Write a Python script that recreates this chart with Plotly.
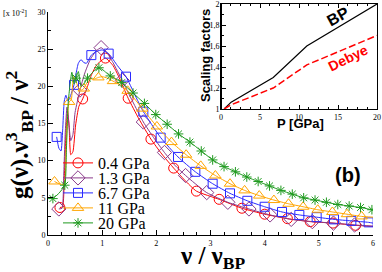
import plotly.graph_objects as go

# ---------------- data ----------------
x_red = [0.22, 0.27, 0.30, 0.33, 0.36, 0.39, 0.42, 0.46, 0.51, 0.57, 0.64, 0.72, 0.80, 0.90, 1.06, 1.20, 1.30, 1.48, 1.68, 1.90, 2.10, 2.32, 2.52, 2.74, 3.16, 3.58, 4.00, 4.42, 4.84, 5.26, 5.68, 6.00]
y_red = [3.7, 3.8, 7.5, 13.5, 16.8, 14.5, 10.8, 11.2, 14.8, 17.3, 18.3, 19.8, 21.5, 22.9, 23.8, 22.8, 21.4, 18.4, 15.6, 12.9, 10.9, 9.0, 7.4, 5.9, 4.8, 3.6, 2.8, 2.2, 1.8, 1.6, 1.3, 1.15]
mx_red = [0.22, 0.64, 1.06, 1.48, 1.90, 2.32, 2.74, 3.16, 3.58, 4.00, 4.42, 4.84, 5.26, 5.68]

x_pur = [0.20, 0.26, 0.29, 0.32, 0.35, 0.38, 0.42, 0.46, 0.50, 0.59, 0.68, 0.78, 0.88, 0.98, 1.08, 1.20, 1.37, 1.56, 1.76, 1.95, 2.15, 2.34, 2.54, 2.93, 3.32, 3.71, 4.10, 4.49, 4.88, 5.27, 5.66, 6.00]
y_pur = [3.5, 3.6, 8.0, 14.0, 17.2, 15.5, 12.7, 13.5, 16.5, 19.5, 21.8, 23.6, 24.7, 25.2, 24.6, 23.2, 20.8, 18.0, 15.2, 13.1, 11.1, 9.4, 8.0, 5.7, 4.4, 3.5, 2.7, 2.1, 1.8, 1.6, 1.35, 1.2]
mx_pur = [0.20, 0.59, 0.98, 1.37, 1.76, 2.15, 2.54, 2.93, 3.32, 3.71, 4.10, 4.49, 4.88, 5.27, 5.66]

x_blu = [0.16, 0.20, 0.24, 0.27, 0.30, 0.33, 0.37, 0.42, 0.48, 0.52, 0.56, 0.61, 0.66, 0.71, 0.80, 0.90, 1.00, 1.12, 1.28, 1.44, 1.60, 1.76, 2.08, 2.40, 2.72, 3.04, 3.36, 3.68, 4.00, 4.32, 4.64, 4.96, 5.28, 5.60, 5.92, 6.00]
y_blu = [13.2, 11.7, 11.3, 14.0, 18.0, 18.8, 18.0, 18.8, 20.2, 21.8, 23.1, 23.6, 23.2, 23.1, 24.2, 24.7, 24.9, 24.4, 22.8, 21.3, 18.9, 16.6, 13.1, 10.5, 8.5, 6.9, 5.6, 4.6, 3.8, 3.1, 2.7, 2.4, 2.1, 1.9, 1.7, 1.6]
mx_blu = [0.16, 0.48, 0.80, 1.12, 1.44, 1.76, 2.08, 2.40, 2.72, 3.04, 3.36, 3.68, 4.00, 4.32, 4.64, 4.96, 5.28, 5.60, 5.92]

x_org = [0.12, 0.20, 0.30, 0.33, 0.36, 0.39, 0.43, 0.47, 0.52, 0.57, 0.62, 0.66, 0.72, 0.79, 0.86, 0.93, 1.00, 1.10, 1.20, 1.33, 1.47, 1.60, 1.74, 2.01, 2.28, 2.55, 2.82, 3.09, 3.36, 3.63, 3.90, 4.17, 4.44, 4.71, 4.98, 5.25, 5.52, 5.79, 6.00]
y_org = [7.2, 6.9, 6.8, 10.5, 16.0, 17.9, 18.2, 21.3, 20.6, 19.7, 19.5, 19.7, 20.5, 21.0, 21.0, 21.2, 21.3, 21.1, 20.7, 20.2, 19.4, 18.3, 17.0, 14.6, 12.5, 10.8, 9.3, 8.0, 6.9, 6.0, 5.3, 4.7, 4.2, 3.8, 3.4, 3.1, 2.8, 2.5, 2.4]
mx_org = [0.12, 0.39, 0.66, 0.93, 1.20, 1.47, 1.74, 2.01, 2.28, 2.55, 2.82, 3.09, 3.36, 3.63, 3.90, 4.17, 4.44, 4.71, 4.98, 5.25, 5.52, 5.79]

x_grn = [0.09, 0.20, 0.31, 0.34, 0.37, 0.40, 0.44, 0.48, 0.52, 0.56, 0.61, 0.66, 0.73, 0.80, 0.87, 0.94, 1.00, 1.08, 1.15, 1.25, 1.36, 1.57, 1.78, 1.99, 2.20, 2.41, 2.62, 2.83, 3.04, 3.25, 3.46, 3.67, 3.88, 4.09, 4.30, 4.51, 4.72, 4.93, 5.14, 5.35, 5.56, 5.77, 5.98]
y_grn = [4.9, 5.6, 6.7, 11.5, 17.5, 19.8, 21.9, 20.3, 21.1, 22.0, 20.0, 20.3, 21.1, 21.7, 22.2, 22.5, 22.3, 21.8, 21.4, 21.0, 20.5, 19.1, 17.7, 16.2, 14.9, 13.6, 12.5, 11.3, 10.1, 9.2, 8.5, 7.8, 7.2, 6.6, 6.0, 5.5, 5.0, 4.7, 4.4, 4.1, 3.9, 3.7, 3.4]
mx_grn = [0.09, 0.31, 0.52, 0.73, 0.94, 1.15, 1.36, 1.57, 1.78, 1.99, 2.20, 2.41, 2.62, 2.83, 3.04, 3.25, 3.46, 3.67, 3.88, 4.09, 4.30, 4.51, 4.72, 4.93, 5.14, 5.35, 5.56, 5.77, 5.98]

series_names = ["0.4 GPa", "1.3 GPa", "6.7 GPa", "11 GPa", "20 GPa"]

# inset
p_gpa = [0.4, 1.3, 6.7, 11, 20]
bp_scale = [1.0, 1.065, 1.3, 1.6, 2.0]
debye_scale = [1.0, 1.04, 1.2, 1.42, 1.7]

main_xticks = [0, 1, 2, 3, 4, 5, 6]
main_yticks = [0, 5, 10, 15, 20, 25, 30]
inset_xticks = [0, 5, 10, 15, 20]
inset_yticks = [1.0, 1.2, 1.4, 1.6, 1.8, 2.0]
inset_ytext = ["1", "1,2", "1,4", "1,6", "1,8", "2"]

# ---------------- layout helpers ----------------
W, H = 382, 272
L, R, T, B = 48, 5, 4, 37
PW, PH = W - L - R, H - T - B

def px(X):
    return (X - L) / PW

def py(Y):
    return (H - B - Y) / PH

SERIF = "Liberation Serif"
SANS = "Liberation Sans"

styles = [
    ("#ff0000", "circle-open", 10),
    ("#8a3a8a", "diamond-open", 11),
    ("#2a2aff", "square-open", 9),
    ("#ffa500", "triangle-up-open", 10),
    ("#1f9a1f", "asterisk-open", 8),
]
data = [(x_red, y_red, mx_red), (x_pur, y_pur, mx_pur), (x_blu, y_blu, mx_blu),
        (x_org, y_org, mx_org), (x_grn, y_grn, mx_grn)]

fig = go.Figure()
for i, ((xs, ys, mxs), (col, sym, sz), name) in enumerate(zip(data, styles, series_names)):
    lookup = dict(zip(xs, ys))
    fig.add_trace(go.Scatter(x=xs, y=ys, mode="lines", showlegend=False, hoverinfo="skip",
                             line=dict(color=col, width=1, shape="spline", smoothing=0.5)))
    fig.add_trace(go.Scatter(x=mxs, y=[lookup[v] for v in mxs], mode="markers", showlegend=False,
                             marker=dict(symbol=sym, size=sz, color=col, line=dict(color=col, width=1))))
    fig.add_trace(go.Scatter(x=[None], y=[None], mode="lines+markers", name=name,
                             legend="legend" if i == 0 else f"legend{i+1}",
                             line=dict(color=col, width=1),
                             marker=dict(symbol=sym, size=sz, color=col, line=dict(color=col, width=1))))

fig.add_trace(go.Scatter(x=p_gpa, y=bp_scale, mode="lines", xaxis="x2", yaxis="y2", showlegend=False,
                         line=dict(color="black", width=1.2)))
fig.add_trace(go.Scatter(x=p_gpa, y=debye_scale, mode="lines", xaxis="x2", yaxis="y2", showlegend=False,
                         line=dict(color="#ff0000", width=1.5, dash="7px,3px")))

axis_common = dict(showline=True, linecolor="black", linewidth=1, showgrid=False, zeroline=False,
                   ticks="inside", tickcolor="black", tickwidth=1, automargin=False, showticklabels=True)

legend_y = [163, 178, 193, 208, 223]
legends = {}
for i, yy in enumerate(legend_y):
    key = "legend" if i == 0 else f"legend{i+1}"
    legends[key] = dict(x=px(58), y=py(yy), xanchor="left", yanchor="middle",
                        bgcolor="rgba(0,0,0,0)", font=dict(family=SERIF, size=16, color="black"),
                        itemwidth=30, tracegroupgap=0)

fig.update_layout(
    template="none",
    width=W, height=H, margin=dict(l=L, r=R, t=T, b=B, autoexpand=False),
    paper_bgcolor="white", plot_bgcolor="white",
    font=dict(family=SERIF, color="black"),
    xaxis=dict(**axis_common, domain=[0, px(373)], range=[0, 6], tickvals=main_xticks, ticklen=5,
               minor=dict(dtick=0.25, ticks="inside", ticklen=3, tickcolor="black"),
               tickfont=dict(family=SERIF, size=8, color="black")),
    yaxis=dict(**axis_common, domain=[0, py(12)], range=[0, 30], tickvals=main_yticks, ticklen=5,
               minor=dict(dtick=2.5, ticks="inside", ticklen=3, tickcolor="black"),
               tickfont=dict(family=SERIF, size=8, color="black")),
    xaxis2=dict(**axis_common, anchor="y2", domain=[px(221), px(377)], range=[0, 20],
                tickvals=inset_xticks, ticklen=4, mirror="allticks",
                minor=dict(dtick=1.25, ticks="inside", ticklen=2, tickcolor="black"),
                tickfont=dict(family=SERIF, size=8, color="black")),
    yaxis2=dict(**axis_common, anchor="free", position=px(221), side="left",
                domain=[py(109), py(4)], range=[1, 2],
                tickmode="array", tickvals=inset_yticks, ticktext=inset_ytext, ticklen=4, mirror="allticks",
                ticklabeloverflow="allow",
                minor=dict(dtick=0.1, ticks="inside", ticklen=2, tickcolor="black"),
                tickfont=dict(family=SERIF, size=8, color="black")),
    **legends,
)

ann = [
    dict(text="[x 10<sup>-2</sup>]", x=px(15), y=py(13), font=dict(family=SERIF, size=8)),
    dict(text="<b>g(ν).ν<sup>3</sup><sub>BP</sub> / ν<sup>2</sup></b>", x=px(19), y=py(135), textangle=-90,
         font=dict(family=SERIF, size=25)),
    dict(text="<b>ν / ν<sub>BP</sub></b>", x=px(212), y=py(257), font=dict(family=SERIF, size=25)),
    dict(text="<b>(b)</b>", x=px(348), y=py(175), font=dict(family=SANS, size=20)),
    dict(text="<b>Scaling factors</b>", x=px(205), y=py(56), textangle=-90, font=dict(family=SANS, size=13)),
    dict(text="<b>P [GPa]</b>", x=px(300), y=py(123), font=dict(family=SANS, size=13)),
    dict(text="<b>BP</b>", x=px(338), y=py(17), textangle=-29, font=dict(family=SANS, size=16)),
    dict(text="<b>Debye</b>", x=px(348), y=py(58), textangle=-26, font=dict(family=SANS, size=14, color="#ff0000")),
]
for a in ann:
    a.setdefault("font", {})
    a["font"].setdefault("color", "black")
    fig.add_annotation(xref="paper", yref="paper", showarrow=False, xanchor="center", yanchor="middle", **a)

fig.write_html("out.html", config={"displayModeBar": False},
               post_script="document.body.style.margin='0px';")
